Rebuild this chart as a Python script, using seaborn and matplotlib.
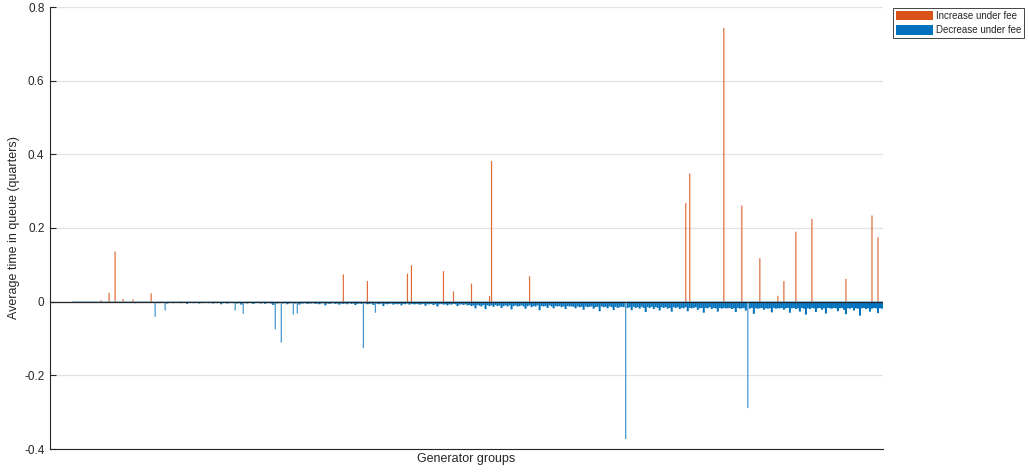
import numpy as np
import pandas as pd
import matplotlib
matplotlib.use("Agg")
import matplotlib.pyplot as plt
import seaborn as sns
from matplotlib.patches import Patch

# ---------------- data ----------------
# depth of the "decrease under fee" band for every generator group (units of 0.001 quarters)
band_depth_milli = [
    0, 0, 0, 0, 0, 0, 0, 0, 0, 0, 0, 1, 1, 1, 1, 2, 1, 1, 2, 1, 1, 2, 1, 2, 1, 1,
    2, 1, 2, 3, 1, 2, 3, 2, 2, 1, 3, 2, 2, 3, 2, 2, 4, 2, 3, 2, 2, 3, 2, 3, 2, 3,
    3, 2, 4, 3, 2, 3, 5, 3, 2, 4, 3, 3, 2, 4, 3, 3, 6, 3, 2, 4, 3, 3, 5, 3, 4, 3,
    3, 4, 3, 5, 3, 4, 3, 7, 4, 3, 5, 4, 3, 4, 3, 5, 4, 8, 3, 4, 5, 3, 4, 6, 4, 3,
    4, 5, 3, 6, 4, 4, 5, 9, 4, 5, 4, 6, 5, 4, 7, 5, 4, 6, 5, 4, 8, 5, 5, 4, 6, 5,
    5, 4, 6, 5, 7, 5, 4, 10, 5, 6, 5, 4, 6, 5, 8, 5, 6, 5, 7, 4, 6, 5, 9, 6, 5, 6,
    6, 5, 7, 6, 5, 9, 6, 6, 7, 5, 12, 6, 7, 6, 5, 8, 6, 7, 6, 10, 6, 7, 5, 8, 6, 7,
    7, 6, 8, 7, 6, 11, 7, 7, 6, 9, 7, 13, 7, 6, 8, 7, 10, 7, 8, 6, 7, 12, 8, 7, 9, 7,
    10, 9, 12, 10, 18, 9, 11, 13, 9, 20, 10, 12, 10, 14, 9, 12, 10, 17, 12, 10, 13, 10, 21, 12, 10, 13,
    12, 10, 13, 19, 12, 10, 15, 12, 13, 10, 23, 12, 13, 12, 17, 10, 13, 18, 12, 13, 12, 15, 13, 20, 12, 13,
    13, 14, 18, 13, 15, 14, 22, 13, 15, 14, 13, 19, 15, 14, 26, 13, 15, 14, 18, 13, 15, 23, 14, 17, 15, 14,
    15, 14, 17, 15, 23, 14, 17, 15, 19, 14, 17, 28, 15, 17, 14, 20, 15, 17, 24, 15, 17, 15, 19, 17, 27, 15,
    17, 15, 20, 17, 18, 15, 26, 17, 18, 17, 15, 22, 18, 17, 30, 17, 18, 15, 20, 17, 18, 27, 17, 19, 17, 18,
    18, 17, 20, 18, 28, 17, 19, 18, 17, 24, 18, 19, 17, 33, 18, 19, 18, 17, 22, 18, 19, 18, 29, 17, 19, 18,
    18, 17, 22, 18, 17, 30, 18, 17, 20, 18, 27, 17, 19, 35, 18, 20, 17, 18, 28, 18, 17, 22, 18, 32, 17, 18,
    19, 17, 18, 26, 18, 17, 22, 34, 18, 19, 17, 24, 18, 19, 38, 18, 17, 20, 18, 27, 19, 17, 18, 31, 18, 19,
]

# large decreases (group index, value)
dec_spike_group = [52, 57, 92, 96, 112, 115, 121, 123, 156, 162, 287, 348]
dec_spike_value = [-0.041, -0.024, -0.024, -0.033, -0.075, -0.111, -0.035, -0.032,
                   -0.126, -0.030, -0.373, -0.289]

# increases under fee (group index, value)
inc_group = [25, 29, 32, 36, 41, 50, 146, 158, 178, 180, 196, 201, 210, 219, 220, 239,
             317, 319, 336, 345, 354, 363, 366, 372, 380, 397, 410, 413]
inc_value = [0.004, 0.024, 0.136, 0.007, 0.006, 0.023, 0.074, 0.056, 0.076, 0.099, 0.083,
             0.028, 0.049, 0.015, 0.382, 0.069, 0.268, 0.348, 0.743, 0.261, 0.118, 0.016,
             0.056, 0.190, 0.225, 0.062, 0.234, 0.175]

yticks = [-0.4, -0.2, 0, 0.2, 0.4, 0.6, 0.8]
ytick_labels = ["-0.4", "-0.2", "0", "0.2", "0.4", "0.6", "0.8"]
legend_labels = ["Increase under fee", "Decrease under fee"]

ORANGE = "#D95319"
BLUE = "#0072BD"
DARK = "#262626"

# ---------------- style ----------------
sns.set_style("white")
plt.rcParams["font.family"] = ["Liberation Sans", "DejaVu Sans"]
plt.rcParams["axes.unicode_minus"] = False

fig = plt.figure(figsize=(10.28, 4.74), dpi=100)
ax = fig.add_axes([50 / 1028, 1 - 449 / 474, 833 / 1028, 442 / 474])

n = len(band_depth_milli)
groups = np.arange(n)
dec = -np.array(band_depth_milli, dtype=float) / 1000.0
dec[dec_spike_group] = dec_spike_value
df_dec = pd.DataFrame({"group": groups, "value": dec})
is_spike = df_dec["group"].isin(dec_spike_group)
df_inc = pd.DataFrame({"group": inc_group, "value": inc_value})

# dense band of small decreases
sns.barplot(data=df_dec[~is_spike], x="group", y="value", native_scale=True,
            color=BLUE, width=1.0, errorbar=None, linewidth=0, edgecolor="none",
            saturation=1, ax=ax, zorder=2, snap=False)
# isolated large decreases (single thin groups); seaborn scales width by the
# smallest gap between these groups (2), so 0.3 -> 0.6 group widths
sns.barplot(data=df_dec[is_spike], x="group", y="value", native_scale=True,
            color=BLUE, width=0.3, errorbar=None, linewidth=0, edgecolor="none",
            saturation=1, ax=ax, alpha=0.75, zorder=2, snap=False)
# increases under fee
sns.barplot(data=df_inc, x="group", y="value", native_scale=True, color=ORANGE,
            width=0.6, errorbar=None, linewidth=0, edgecolor="none",
            saturation=1, ax=ax, alpha=0.85, zorder=2, snap=False)

ax.axhline(0, color=DARK, lw=0.9, zorder=3)

ax.set_xlim(-0.5, n - 0.5)
ax.set_ylim(-0.4, 0.8)
ax.set_yticks(yticks)
ax.set_yticklabels(ytick_labels)
ax.set_xticks([])
ax.yaxis.grid(True, color="#e3e3e3", lw=0.9)
ax.xaxis.grid(False)
ax.set_axisbelow(True)
for s in ["top", "right"]:
    ax.spines[s].set_visible(False)
for s in ["left", "bottom"]:
    ax.spines[s].set_color(DARK)
    ax.spines[s].set_linewidth(0.8)
ax.tick_params(axis="y", direction="in", length=4, width=0.8, colors=DARK,
               labelsize=8.5, pad=4, left=True)

ax.set_xlabel("Generator groups", fontsize=9, color=DARK, labelpad=3)
ax.set_ylabel("Average time in queue (quarters)", fontsize=9, color=DARK, labelpad=3)

handles = [Patch(facecolor=ORANGE, edgecolor="none"),
           Patch(facecolor=BLUE, edgecolor="none")]
leg = fig.legend(handles, legend_labels, loc="upper left",
                 bbox_to_anchor=(893 / 1028, 1 - 8 / 474), fontsize=7,
                 frameon=True, fancybox=False, framealpha=1, edgecolor=DARK,
                 borderpad=0.3, labelspacing=0.45, handleheight=1.1,
                 handlelength=3.8, handletextpad=0.3, borderaxespad=0)
leg.get_frame().set_linewidth(0.6)

fig.savefig("out.png", dpi=100)
